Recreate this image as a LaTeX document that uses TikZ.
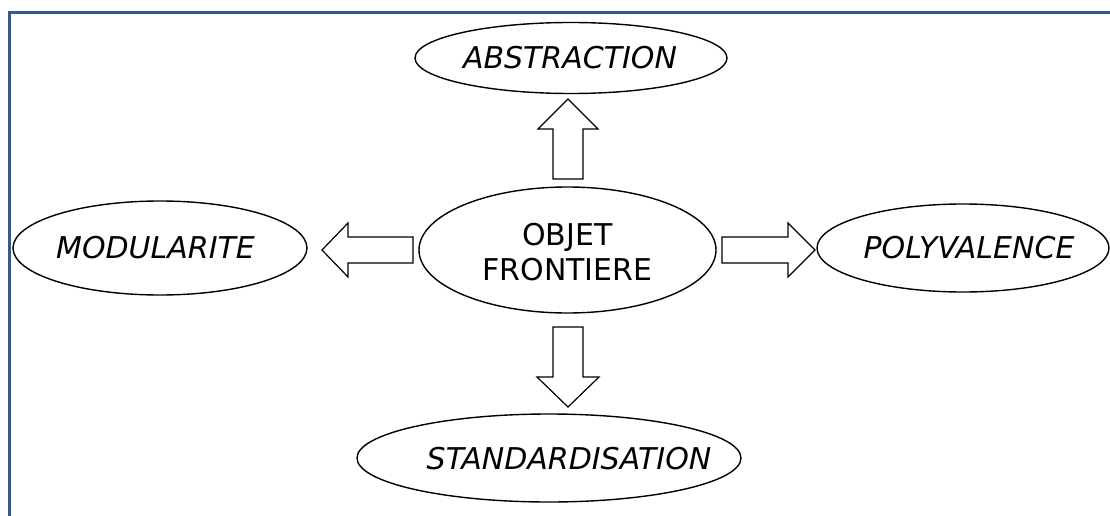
\documentclass[tikz,border=0pt]{standalone}
\usepackage{fontspec}
\setmainfont{DejaVu Sans}
\usetikzlibrary{shapes.geometric}
\definecolor{framec}{RGB}{52,88,146}
\begin{document}
\begin{tikzpicture}[x=1pt,y=-1pt,
  oval/.style={draw=black,line width=1.4pt,ellipse,inner sep=0pt,fill=white},
  ovaltext/.style={font=\fontsize{30}{36}\selectfont\itshape,inner sep=0pt},
  blockarrow/.style={draw=black,line width=1.2pt,fill=white,line join=miter}]
\useasboundingbox (0,0) rectangle (1110,516);
\draw[framec,line width=3pt] (9,516) -- (9,13) -- (1110,13);
\node[oval,minimum width=312pt,minimum height=71pt] (abs) at (571,58) {};
\node[ovaltext] (abst) at (570,58) {ABSTRACTION};
\node[oval,minimum width=297pt,minimum height=126pt] (obj) at (567.5,250) {};
\node[ovaltext,font=\fontsize{30}{35}\selectfont,align=center] (objt) at (567.5,252) {OBJET\\FRONTIERE};
\node[oval,minimum width=294pt,minimum height=94pt] (mod) at (160,248) {};
\node[ovaltext] (modt) at (155.5,248) {MODULARITE};
\node[oval,minimum width=292pt,minimum height=88pt] (pol) at (963,248) {};
\node[ovaltext] (polt) at (969,248) {POLYVALENCE};
\node[oval,minimum width=384pt,minimum height=88pt] (std) at (549,458) {};
\node[ovaltext] (stdt) at (569,459) {STANDARDISATION};
\draw[blockarrow] (553,179) -- (553,129) -- (538,129) -- (568,99) -- (598,129) -- (583,129) -- (583,179) -- cycle;
\draw[blockarrow] (553,327) -- (553,377) -- (537,377) -- (568,407) -- (599,377) -- (583,377) -- (583,327) -- cycle;
\draw[blockarrow] (413,237) -- (348,237) -- (348,223) -- (322,250) -- (348,277) -- (348,263) -- (413,263) -- cycle;
\draw[blockarrow] (722,237) -- (788,237) -- (788,223) -- (815,250) -- (788,277) -- (788,263) -- (722,263) -- cycle;
\end{tikzpicture}
\end{document}
